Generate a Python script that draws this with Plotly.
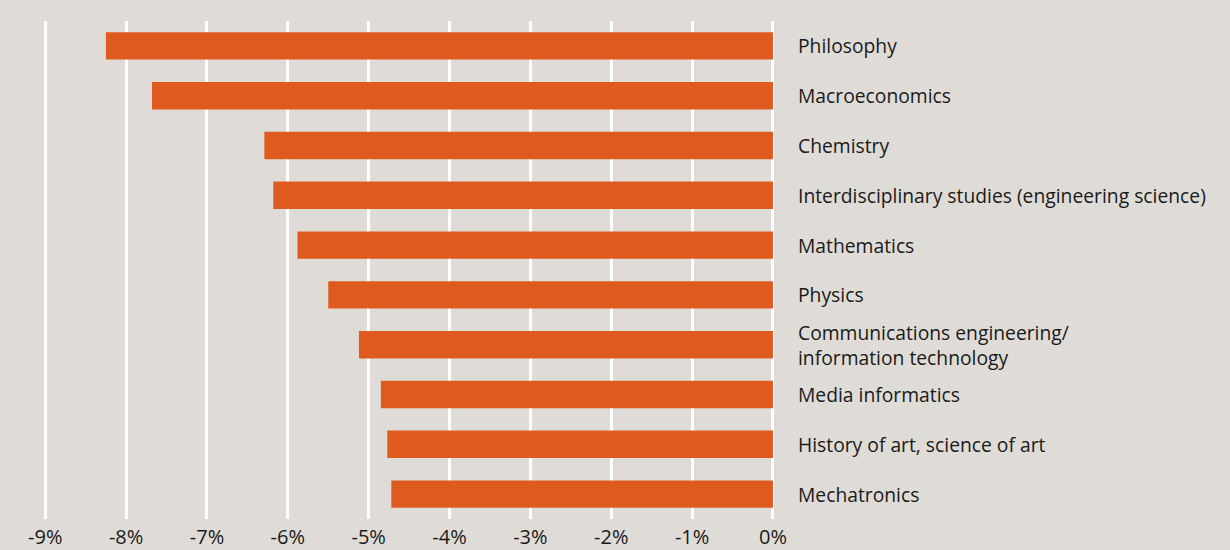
import plotly.graph_objects as go

# Subjects (top to bottom) and their change in percent
subjects = [
    "Philosophy",
    "Macroeconomics",
    "Chemistry",
    "Interdisciplinary studies (engineering science)",
    "Mathematics",
    "Physics",
    "Communications engineering/<br>information technology",
    "Media informatics",
    "History of art, science of art",
    "Mechatronics",
]
change_pct = [-8.25, -7.68, -6.29, -6.18, -5.88, -5.50, -5.12, -4.85, -4.77, -4.72]

tick_vals = [-9, -8, -7, -6, -5, -4, -3, -2, -1, 0]
tick_text = ["-9%", "-8%", "-7%", "-6%", "-5%", "-4%", "-3%", "-2%", "-1%", "0%"]

BG = "#dfdcd7"
BAR = "#df5a1f"
FONT = "Open Sans, Noto Sans, sans-serif"

fig = go.Figure(
    go.Bar(
        x=change_pct,
        y=subjects,
        orientation="h",
        marker=dict(color=BAR, line=dict(width=0)),
        width=0.55,
        hoverinfo="skip",
    )
)

# Category labels placed just to the right of the zero line
for name in subjects:
    fig.add_annotation(
        x=0, y=name, xref="x", yref="y",
        text=name, showarrow=False,
        xanchor="left", yanchor="middle", align="left",
        xshift=23,
        font=dict(family=FONT, size=19.3, color="#1a1a1a"),
    )

fig.update_layout(
    width=1230, height=550,
    margin=dict(l=21, r=453, t=21, b=31),
    paper_bgcolor=BG, plot_bgcolor=BG,
    showlegend=False,
    bargap=0.45,
    xaxis=dict(
        range=[-9.3, 0.05],
        tickvals=tick_vals, ticktext=tick_text,
        showgrid=True, gridcolor="white", gridwidth=3,
        zeroline=False, showline=False, ticks="",
        tickfont=dict(family=FONT, size=20, color="#1a1a1a"),
        ticklabelstandoff=4,
        automargin=False,
        fixedrange=True,
    ),
    yaxis=dict(
        categoryorder="array", categoryarray=subjects[::-1],
        showticklabels=False, showgrid=False, zeroline=False,
        ticks="", automargin=False, fixedrange=True,
    ),
)

fig.write_html("out.html")
